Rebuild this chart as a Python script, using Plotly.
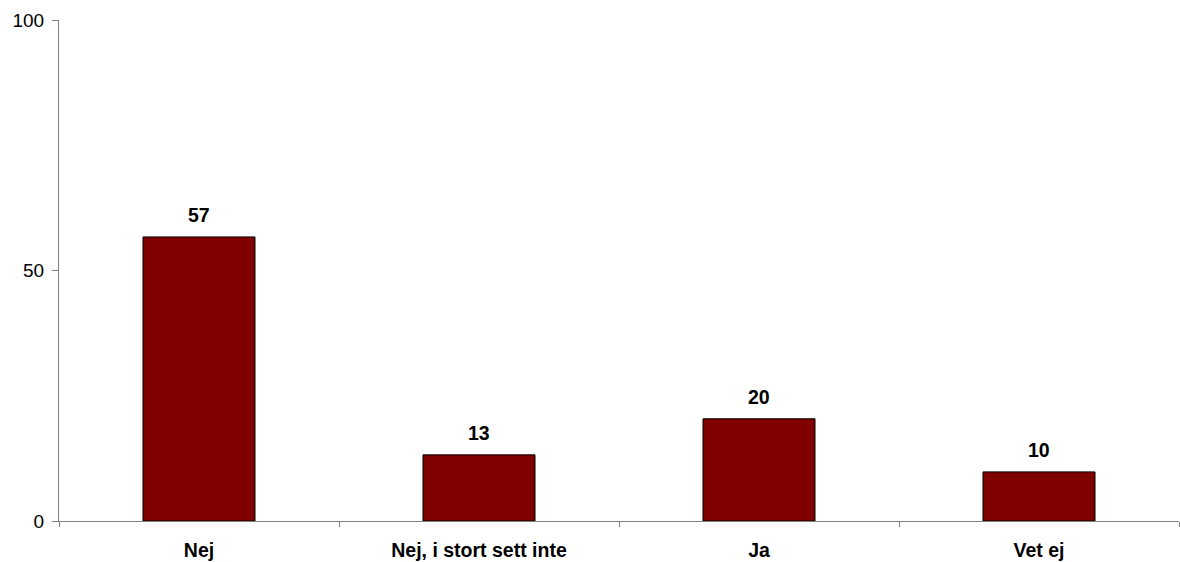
import plotly.graph_objects as go

categories = ["Nej", "Nej, i stort sett inte", "Ja", "Vet ej"]
values = [56.7, 13.2, 20.4, 9.8]
labels = ["57", "13", "20", "10"]
y_ticks = [0, 50, 100]

FONT = "Liberation Sans, Arial, Helvetica, sans-serif"

fig = go.Figure()
fig.add_trace(go.Bar(
    x=categories, y=values, width=0.4,
    marker=dict(color="#800000", line=dict(color="#000000", width=1)),
    hoverinfo="skip",
))
for c, v, t in zip(categories, values, labels):
    fig.add_annotation(x=c, y=v, text="<b>" + t + "</b>", showarrow=False,
                       yanchor="bottom", yshift=9,
                       font=dict(family=FONT, size=19.5, color="#000"))

fig.update_layout(
    width=1180, height=562,
    margin=dict(l=59, r=1, t=20, b=41),
    paper_bgcolor="white", plot_bgcolor="white",
    showlegend=False,
    font=dict(family=FONT, color="#000"),
    xaxis=dict(
        type="category", range=[-0.5, 3.5], tickson="boundaries",
        ticks="outside", ticklen=5, tickcolor="#808080", tickwidth=1,
        showline=True, linecolor="#808080", linewidth=1,
        showgrid=False, zeroline=False,
        tickvals=categories, ticktext=["<b>" + c + "</b>" for c in categories],
        tickfont=dict(size=19.5, color="#000"),
        ticklabelstandoff=12,
    ),
    yaxis=dict(
        range=[0, 100], tickvals=y_ticks,
        ticks="outside", ticklen=6, tickcolor="#808080", tickwidth=1,
        showline=True, linecolor="#808080", linewidth=1,
        showgrid=False, zeroline=False,
        tickfont=dict(size=19, color="#000"),
        ticklabelstandoff=4,
    ),
)
fig.write_html(
    "out.html",
    config={"displayModeBar": False},
    post_script="document.body.style.margin='0';document.body.style.overflow='hidden';",
)
